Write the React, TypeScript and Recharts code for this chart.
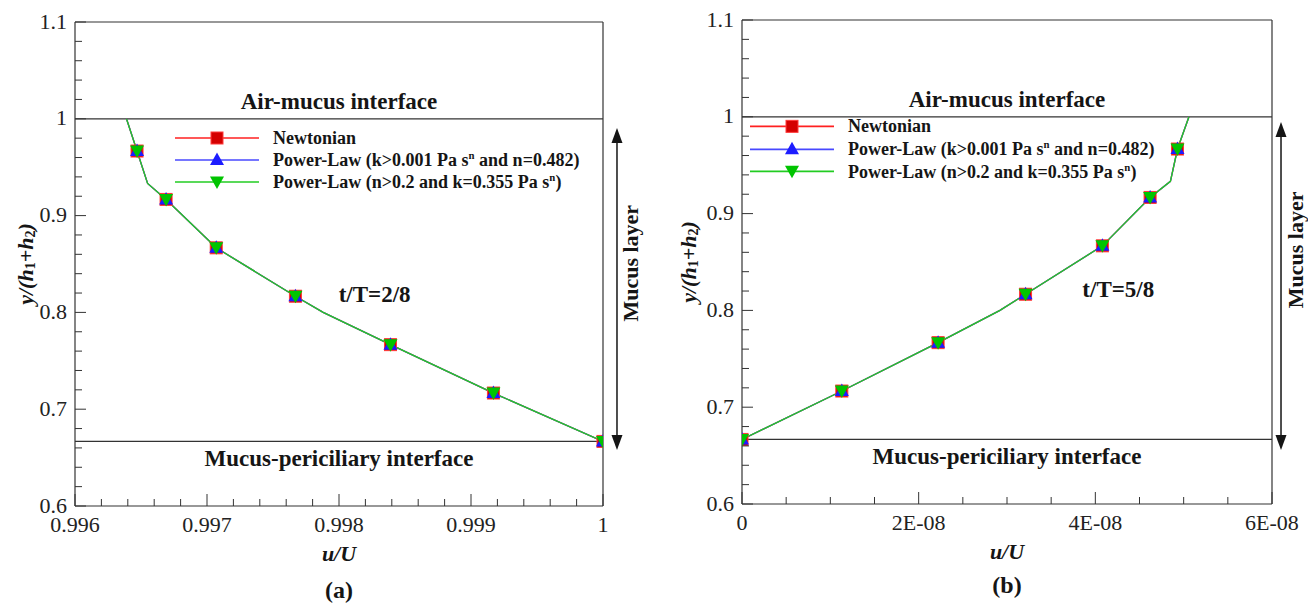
import React from 'react';
import {
  ComposedChart, Line, Scatter, XAxis, YAxis,
  ReferenceLine, ReferenceDot, Legend
} from 'recharts';

const FONT = '"Liberation Serif", "Times New Roman", serif';
const INK = '#151515';

// series (same for both panels)
const seriesNames = [
  'Newtonian',
  'Power-Law (k>0.001 Pa s^n and n=0.482)',
  'Power-Law (n>0.2 and k=0.355 Pa s^n)',
];
const seriesColors = ['#ff2020', '#4848ff', '#22cc22'];

// marker heights y/(h1+h2)
const markY = [0.9667, 0.9167, 0.8667, 0.8167, 0.7667, 0.7167, 0.6667];

// (a) t/T = 2/8
const leftMarkU = [0.99647, 0.99669, 0.99707, 0.99767, 0.99839, 0.99917, 1.0];
const leftLineU = [0.99639, 0.99647, 0.99655, 0.99669, 0.99707, 0.99767, 0.99788, 0.99839, 0.99917, 1.0];
const leftLineY = [1.0, 0.9667, 0.9333, 0.9167, 0.8667, 0.8167, 0.8, 0.7667, 0.7167, 0.6667];

// (b) t/T = 5/8
const rightMarkU = [4.93e-8, 4.62e-8, 4.08e-8, 3.21e-8, 2.22e-8, 1.13e-8, 0];
const rightLineU = [5.06e-8, 4.93e-8, 4.85e-8, 4.62e-8, 4.08e-8, 3.21e-8, 2.92e-8, 2.22e-8, 1.13e-8, 0];
const rightLineY = [1.0, 0.9667, 0.9333, 0.9167, 0.8667, 0.8167, 0.8, 0.7667, 0.7167, 0.6667];

// ticks
const yMajor = [0.6, 0.7, 0.8, 0.9, 1.0, 1.1];
const yMajorLabels = ['0.6', '0.7', '0.8', '0.9', '1', '1.1'];
const leftXMajor = [0.996, 0.997, 0.998, 0.999, 1.0];
const leftXLabels = ['0.996', '0.997', '0.998', '0.999', '1'];
const rightXMajor = [0, 2e-8, 4e-8, 6e-8];
const rightXLabels = ['0', '2E-08', '4E-08', '6E-08'];

const stepTicks = (from: number, to: number, step: number) => {
  const out: number[] = [];
  const n = Math.round((to - from) / step);
  for (let i = 0; i <= n; i++) out.push(+(from + i * step).toPrecision(10));
  return out;
};

const toPts = (us: number[], ys: number[]) => us.map((u, i) => ({ u, y: ys[i] }));

const majorIndex = (v: number, majors: number[], span: number) =>
  majors.findIndex((m) => Math.abs(m - v) <= span * 1e-6);

const Marker = ({ kind, cx, cy }: { kind: number; cx: number; cy: number }) => {
  if (kind === 0)
    return <rect x={cx - 6} y={cy - 6} width={12} height={12} fill="#d40000" stroke="#ff3a3a" strokeWidth={1} />;
  if (kind === 1)
    return <polygon points={`${cx},${cy - 7.5} ${cx + 7},${cy + 5} ${cx - 7},${cy + 5}`} fill="#1c1cff" />;
  return <polygon points={`${cx - 7},${cy - 5.5} ${cx + 7},${cy - 5.5} ${cx},${cy + 7}`} fill="#00c400" />;
};

const renderName = (name: string) => {
  const parts = name.split('^n');
  return parts.map((p, i) => (
    <React.Fragment key={i}>
      {p}
      {i < parts.length - 1 && <sup style={{ fontSize: '0.6em', lineHeight: 0 }}>n</sup>}
    </React.Fragment>
  ));
};

const LegendBox = ({ rowH }: { rowH: number }) => (
  <div style={{ fontFamily: FONT, fontWeight: 'bold', fontSize: 18, color: INK, whiteSpace: 'nowrap' }}>
    {seriesNames.map((name, i) => (
      <div key={name} style={{ display: 'flex', alignItems: 'center', height: rowH }}>
        <svg width={84} height={rowH} style={{ marginRight: 14, flex: 'none' }}>
          <line x1={0} x2={84} y1={rowH / 2} y2={rowH / 2} stroke={seriesColors[i]} strokeWidth={1.6} />
          <Marker kind={i} cx={42} cy={rowH / 2} />
        </svg>
        <span style={{ lineHeight: 1 }}>{renderName(name)}</span>
      </div>
    ))}
  </div>
);

type PanelCfg = {
  width: number;
  height: number;
  top: number;
  right: number;
  yAxisWidth: number;
  xAxisHeight: number;
  xDomain: [number, number];
  xMinorStep: number;
  xMajor: number[];
  xLabels: string[];
  markU: number[];
  lineU: number[];
  lineY: number[];
  tLabel: string;
  tPos: [number, number];
  arrowX: number;
  arrowY: [number, number];
  arrowTextFrac: number;
  yTitleX: number;
  tag: string;
  tagDy: number;
  legendLeft: number;
  legendTop: number;
  legendRowH: number;
};

const Panel = ({ cfg }: { cfg: PanelCfg }) => {
  const plotLeft = cfg.yAxisWidth;
  const plotRight = cfg.width - cfg.right;
  const plotTop = cfg.top;
  const plotBottom = cfg.height - cfg.xAxisHeight;
  const span = cfg.xDomain[1] - cfg.xDomain[0];
  const xTicks = stepTicks(cfg.xDomain[0], cfg.xDomain[1], cfg.xMinorStep);
  const yTicks = stepTicks(0.6, 1.1, 0.02);
  const markPts = toPts(cfg.markU, markY);
  const linePts = toPts(cfg.lineU, cfg.lineY);

  const XTick = (props: any) => {
    const { x, y, payload } = props;
    const idx = majorIndex(payload.value, cfg.xMajor, span);
    const len = idx >= 0 ? 12 : 7;
    return (
      <g>
        <line x1={x} x2={x} y1={y} y2={y - len} stroke="#333" strokeWidth={1} />
        {idx >= 0 && (
          <text x={x} y={y + 18} textAnchor="middle" dominantBaseline="central"
            fontFamily={FONT} fontSize={22} fill="#222">{cfg.xLabels[idx]}</text>
        )}
      </g>
    );
  };

  const YTick = (props: any) => {
    const { x, y, payload } = props;
    const idx = majorIndex(payload.value, yMajor, 0.5);
    const len = idx >= 0 ? 11 : 7;
    return (
      <g>
        <line x1={x} x2={x + len} y1={y} y2={y} stroke="#333" strokeWidth={1} />
        {idx >= 0 && (
          <text x={x - 8} y={y - 1} textAnchor="end" dominantBaseline="central"
            fontFamily={FONT} fontSize={22} fill="#222">{yMajorLabels[idx]}</text>
        )}
      </g>
    );
  };

  const YTitle = () => {
    const cx = cfg.yTitleX;
    const cy = (plotTop + plotBottom) / 2;
    return (
      <text x={cx} y={cy} transform={`rotate(-90 ${cx} ${cy})`} textAnchor="middle" dominantBaseline="central"
        fontFamily={FONT} fontSize={22} fontWeight="bold" fontStyle="italic" fill={INK}>
        y/(h<tspan fontSize={14} fontStyle="normal" dy={5}>1</tspan>
        <tspan dy={-5}>+h</tspan>
        <tspan fontSize={14} fontStyle="normal" dy={5}>2</tspan>
        <tspan dy={-5}>)</tspan>
      </text>
    );
  };

  const XTitle = () => {
    const cx = (plotLeft + plotRight) / 2;
    return (
      <g>
        <text x={cx} y={plotBottom + 47} textAnchor="middle" dominantBaseline="central"
          fontFamily={FONT} fontSize={22} fontWeight="bold" fontStyle="italic" fill={INK}>u/U</text>
        <text x={cx} y={plotBottom + cfg.tagDy} textAnchor="middle" dominantBaseline="central"
          fontFamily={FONT} fontSize={24} fontWeight="bold" fill={INK}>{cfg.tag}</text>
      </g>
    );
  };

  const MucusArrow = (props: any) => {
    const { x1, y1, y2 } = props;
    const x = x1;
    const top = Math.min(y1, y2);
    const bot = Math.max(y1, y2);
    const ah = 15;
    const aw = 5.5;
    const ty = top + (bot - top) * cfg.arrowTextFrac;
    const tx = x + 14;
    return (
      <g>
        <line x1={x} x2={x} y1={top + ah - 1} y2={bot - ah + 1} stroke={INK} strokeWidth={1.5} />
        <polygon points={`${x},${top} ${x - aw},${top + ah} ${x + aw},${top + ah}`} fill={INK} />
        <polygon points={`${x},${bot} ${x - aw},${bot - ah} ${x + aw},${bot - ah}`} fill={INK} />
        <text x={tx} y={ty} transform={`rotate(-90 ${tx} ${ty})`} textAnchor="middle" dominantBaseline="central"
          fontFamily={FONT} fontSize={22} fontWeight="bold" fill={INK}>Mucus layer</text>
      </g>
    );
  };

  return (
    <ComposedChart
      width={cfg.width}
      height={cfg.height}
      margin={{ top: cfg.top, right: cfg.right, bottom: 0, left: 0 }}
    >
      <XAxis
        type="number"
        dataKey="u"
        domain={cfg.xDomain}
        allowDataOverflow
        ticks={xTicks}
        interval={0}
        height={cfg.xAxisHeight}
        tickSize={0}
        tickMargin={0}
        tickLine={false}
        tick={XTick}
        axisLine={{ stroke: '#333', strokeWidth: 1.2 }}
        label={XTitle}
      />
      <YAxis
        type="number"
        dataKey="y"
        domain={[0.6, 1.1]}
        allowDataOverflow
        ticks={yTicks}
        interval={0}
        width={cfg.yAxisWidth}
        tickSize={0}
        tickMargin={0}
        tickLine={false}
        tick={YTick}
        axisLine={{ stroke: '#333', strokeWidth: 1.2 }}
        label={YTitle}
      />
      <ReferenceLine y={1.1} stroke="#333" strokeWidth={1.2} ifOverflow="visible" />
      <ReferenceLine x={cfg.xDomain[1]} stroke="#333" strokeWidth={1.2} ifOverflow="visible" />
      <ReferenceLine
        y={1.0}
        stroke="#333"
        strokeWidth={1.2}
        ifOverflow="visible"
        label={{ value: 'Air-mucus interface', position: 'top', offset: 10, fontSize: 23, fontWeight: 'bold', fill: INK, fontFamily: FONT }}
      />
      <ReferenceLine
        y={0.6667}
        stroke="#333"
        strokeWidth={1.2}
        ifOverflow="visible"
        label={{ value: 'Mucus-periciliary interface', position: 'bottom', offset: 8, fontSize: 23, fontWeight: 'bold', fill: INK, fontFamily: FONT }}
      />
      <ReferenceLine
        segment={[{ x: cfg.arrowX, y: cfg.arrowY[0] }, { x: cfg.arrowX, y: cfg.arrowY[1] }]}
        ifOverflow="visible"
        shape={MucusArrow}
      />
      <ReferenceDot
        x={cfg.tPos[0]}
        y={cfg.tPos[1]}
        r={1}
        fill="none"
        stroke="none"
        ifOverflow="visible"
        label={{ value: cfg.tLabel, position: 'center', fontSize: 23, fontWeight: 'bold', fill: INK, fontFamily: FONT }}
      />
      {seriesNames.map((name, i) => (
        <Line
          key={`line-${i}`}
          data={linePts}
          dataKey="y"
          name={name}
          type="linear"
          stroke={seriesColors[i]}
          strokeWidth={1.3}
          dot={false}
          activeDot={false}
          legendType="none"
          isAnimationActive={false}
        />
      ))}
      {seriesNames.map((name, i) => (
        <Scatter
          key={`mark-${i}`}
          data={markPts}
          dataKey="y"
          name={name}
          shape={(p: any) => <Marker kind={i} cx={p.cx} cy={p.cy} />}
          isAnimationActive={false}
        />
      ))}
      <Legend
        layout="vertical"
        align="center"
        verticalAlign="middle"
        wrapperStyle={{ left: cfg.legendLeft, top: cfg.legendTop, width: 'auto' }}
        content={() => <LegendBox rowH={cfg.legendRowH} />}
      />
    </ComposedChart>
  );
};

const leftCfg: PanelCfg = {
  width: 654,
  height: 603,
  top: 22,
  right: 51,
  yAxisWidth: 75,
  xAxisHeight: 97,
  xDomain: [0.996, 1.0],
  xMinorStep: 0.0002,
  xMajor: leftXMajor,
  xLabels: leftXLabels,
  markU: leftMarkU,
  lineU: leftLineU,
  lineY: leftLineY,
  tLabel: 't/T=2/8',
  tPos: [0.99827, 0.819],
  arrowX: 1.000106,
  arrowY: [0.9905, 0.6579],
  arrowTextFrac: 0.42,
  yTitleX: 25,
  tag: '(a)',
  tagDy: 84,
  legendLeft: 175,
  legendTop: 127,
  legendRowH: 22,
};

const rightCfg: PanelCfg = {
  width: 654,
  height: 603,
  top: 20,
  right: 36,
  yAxisWidth: 88,
  xAxisHeight: 99,
  xDomain: [0, 6e-8],
  xMinorStep: 0.5e-8,
  xMajor: rightXMajor,
  xLabels: rightXLabels,
  markU: rightMarkU,
  lineU: rightLineU,
  lineY: rightLineY,
  tLabel: 't/T=5/8',
  tPos: [4.26e-8, 0.822],
  arrowX: 6.102e-8,
  arrowY: [0.9946, 0.6558],
  arrowTextFrac: 0.39,
  yTitleX: 34,
  tag: '(b)',
  tagDy: 81,
  legendLeft: 96,
  legendTop: 115,
  legendRowH: 22.7,
};

export default function App() {
  return (
    <div style={{ position: 'absolute', left: 0, top: 0, width: 1308, height: 603, background: '#fff', fontFamily: FONT }}>
      <div style={{ position: 'absolute', left: 0, top: 0 }}>
        <Panel cfg={leftCfg} />
      </div>
      <div style={{ position: 'absolute', left: 654, top: 0 }}>
        <Panel cfg={rightCfg} />
      </div>
    </div>
  );
}
